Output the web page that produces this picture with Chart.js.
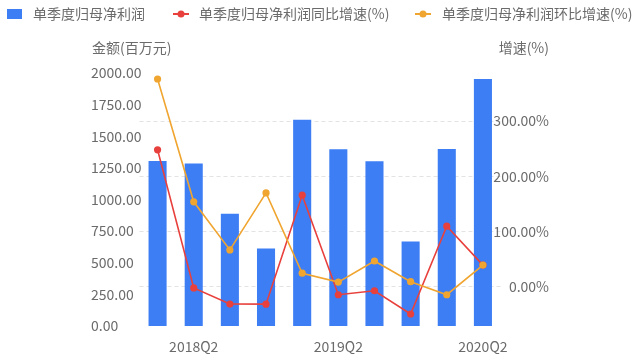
<!DOCTYPE html>
<html>
<head>
<meta charset="utf-8">
<script src="https://cdn.jsdelivr.net/npm/chart.js@4"></script>
<style>
html,body{margin:0;padding:0;background:#fff;}
#wrap{width:640px;height:357px;position:relative;}
</style>
</head>
<body>
<div id="wrap"><canvas id="c" width="640" height="357"></canvas></div>
<script>
const categories = ['2018Q1','2018Q2','2018Q3','2018Q4','2019Q1','2019Q2','2019Q3','2019Q4','2020Q1','2020Q2'];
const profit = [1305, 1284, 888, 612, 1630, 1398, 1303, 667, 1400, 1952];
const yoyGrowth = [248, -1.6, -30.8, -31, 166, -14, -6.8, -48.8, 110, 39.6];
const qoqGrowth = [376, 154, 67, 170, 24.9, 8.9, 47, 9.6, -14, 39.6];
const leftTicks = [0, 250, 500, 750, 1000, 1250, 1500, 1750, 2000];
const rightTicks = [0, 100, 200, 300];
const seriesNames = ['单季度归母净利润', '单季度归母净利润同比增速(%)', '单季度归母净利润环比增速(%)'];
const axisTitles = ['金额(百万元)', '增速(%)'];

const BLUE = '#3d7ef5', RED = '#e8413d', ORANGE = '#f0a530', TXT = '#6b6b6b';
const FONT = '"Noto Sans CJK SC", "Noto Sans", sans-serif';

const overlay = {
  id: 'overlay',
  afterDraw(chart) {
    const ctx = chart.ctx;
    ctx.save();
    ctx.font = '14px ' + FONT;
    ctx.textBaseline = 'middle';
    ctx.fillStyle = TXT;
    const ly = 14;
    ctx.fillStyle = BLUE;
    ctx.fillRect(7, 9, 15, 10);
    ctx.fillStyle = TXT;
    ctx.textAlign = 'left';
    ctx.fillText(seriesNames[0], 33, ly);
    const sym = [[173, RED, 199, seriesNames[1]], [415, ORANGE, 442, seriesNames[2]]];
    for (const [x, col, tx, name] of sym) {
      ctx.strokeStyle = col; ctx.lineWidth = 2;
      ctx.beginPath(); ctx.moveTo(x, ly); ctx.lineTo(x + 16, ly); ctx.stroke();
      ctx.fillStyle = col;
      ctx.beginPath(); ctx.arc(x + 8, ly, 3.5, 0, Math.PI * 2); ctx.fill();
      ctx.fillStyle = TXT;
      ctx.fillText(name, tx, ly);
    }
    ctx.textAlign = 'left';
    ctx.fillText(axisTitles[0], 92, 48);
    ctx.textAlign = 'right';
    ctx.fillText(axisTitles[1], 549, 48);
    ctx.restore();
  }
};

new Chart(document.getElementById('c'), {
  data: {
    labels: categories,
    datasets: [
      { type: 'bar', label: seriesNames[0], data: profit, backgroundColor: BLUE, yAxisID: 'y', order: 3,
        barPercentage: 0.5, categoryPercentage: 1.0 },
      { type: 'line', label: seriesNames[1], data: yoyGrowth, borderColor: RED, backgroundColor: RED,
        borderWidth: 1.6, pointRadius: 3.6, pointBorderWidth: 0, yAxisID: 'y1', order: 2, tension: 0 },
      { type: 'line', label: seriesNames[2], data: qoqGrowth, borderColor: ORANGE, backgroundColor: ORANGE,
        borderWidth: 1.6, pointRadius: 3.6, pointBorderWidth: 0, yAxisID: 'y1', order: 1, tension: 0 }
    ]
  },
  options: {
    responsive: false,
    animation: false,
    devicePixelRatio: 1,
    layout: { padding: { left: 91, right: 91, top: 73, bottom: 0 } },
    plugins: { legend: { display: false }, tooltip: { enabled: false } },
    scales: {
      x: {
        type: 'category', offset: true,
        grid: { display: false, drawTicks: false }, border: { display: false },
        ticks: { color: TXT, font: { size: 14, family: FONT }, padding: 12, autoSkip: false, maxRotation: 0,
          callback(v, i) { const l = categories[i]; return l.endsWith('Q2') ? l : ''; } },
        afterFit(s) { s.height = 31; }
      },
      y: {
        position: 'left', min: 0, max: 2000,
        grid: { display: false, drawTicks: false }, border: { display: false },
        afterBuildTicks(s) { s.ticks = leftTicks.map(v => ({ value: v })); },
        ticks: { color: TXT, font: { size: 14, family: FONT }, mirror: true, crossAlign: 'near', padding: -48.5,
          callback(v) { return Number(v).toFixed(2); } },
        afterFit(s) { s.width = 48.5; s.paddingTop = 0; s.paddingBottom = 0; }
      },
      y1: {
        position: 'right', min: -70.5, max: 386.8,
        grid: { display: true, drawTicks: false, color: '#e3e3e3', lineWidth: 1 },
        border: { display: false, dash: [4, 3] },
        afterBuildTicks(s) { s.ticks = rightTicks.map(v => ({ value: v })); },
        ticks: { color: TXT, font: { size: 14, family: FONT }, mirror: true, crossAlign: 'near', padding: 48,
          callback(v) { return Number(v).toFixed(2) + '%'; } },
        afterFit(s) { s.width = 48; s.paddingTop = 0; s.paddingBottom = 0; }
      }
    }
  },
  plugins: [overlay]
});
</script>
</body>
</html>
